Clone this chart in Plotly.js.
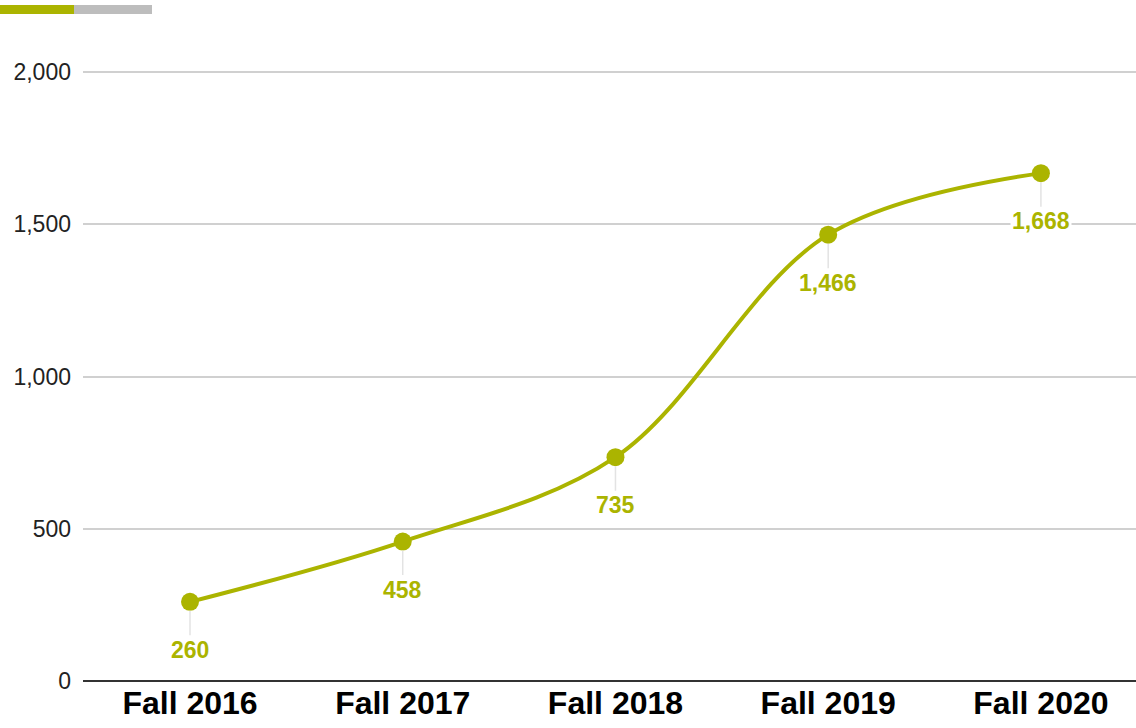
<!DOCTYPE html>
<html>
<head>
<meta charset="utf-8">
<script src="https://cdn.plot.ly/plotly-3.0.1.min.js"></script>
<style>
html,body{margin:0;padding:0;background:#fff;}
#wrap{position:relative;width:1136px;height:728px;}
#chart{position:absolute;left:0;top:0;width:1136px;height:728px;}
.bar{position:absolute;top:5px;height:9px;}
</style>
</head>
<body>
<div id="wrap">
<div id="chart"></div>
<div class="bar" style="left:0;width:74px;background:#abb400;"></div>
<div class="bar" style="left:74px;width:78px;background:#bdbdbd;"></div>
</div>
<script>
const categories = ["Fall 2016", "Fall 2017", "Fall 2018", "Fall 2019", "Fall 2020"];
const values = [260, 458, 735, 1466, 1668];
const yTicks = [0, 500, 1000, 1500, 2000];
const yTickLabels = ["0", "500", "1,000", "1,500", "2,000"];

const green = "#abb400";
const font = "Liberation Sans, Arial, sans-serif";

const trace = {
  x: categories,
  y: values,
  type: "scatter",
  mode: "lines+markers",
  line: {color: green, width: 4, shape: "spline", smoothing: 1},
  marker: {color: green, size: 18},
  hoverinfo: "skip",
  cliponaxis: false
};

const annotations = categories.map((c, i) => ({
  x: c, y: values[i], xref: "x", yref: "y",
  text: "<b>" + values[i].toLocaleString("en-US") + "</b>",
  showarrow: true, ax: 0, ay: 48,
  arrowhead: 0, arrowwidth: 1.5, arrowcolor: "#e3e3e3", standoff: 9,
  bgcolor: "#ffffff", borderpad: 1,
  font: {family: font, size: 23, color: green}
}));

const layout = {
  width: 1136, height: 728,
  margin: {l: 83, r: 0, t: 69, b: 47},
  paper_bgcolor: "#ffffff", plot_bgcolor: "#ffffff",
  showlegend: false,
  xaxis: {
    type: "category",
    range: [-0.503, 4.447],
    showgrid: false, zeroline: false,
    showline: false,
    ticks: "",
    tickfont: {family: font, size: 32, color: "#000", weight: "bold"},
    fixedrange: true
  },
  yaxis: {
    range: [0, 2010],
    tickvals: yTicks, ticktext: yTickLabels,
    showgrid: true, gridcolor: "#d0d0d0", gridwidth: 2,
    zeroline: true, zerolinecolor: "#333333", zerolinewidth: 2,
    showline: false, ticks: "",
    tickfont: {family: font, size: 23, color: "#222"},
    ticklabelstandoff: 11,
    fixedrange: true
  },
  annotations: annotations
};

Plotly.newPlot("chart", [trace], layout, {displayModeBar: false, staticPlot: true});
</script>
</body>
</html>
